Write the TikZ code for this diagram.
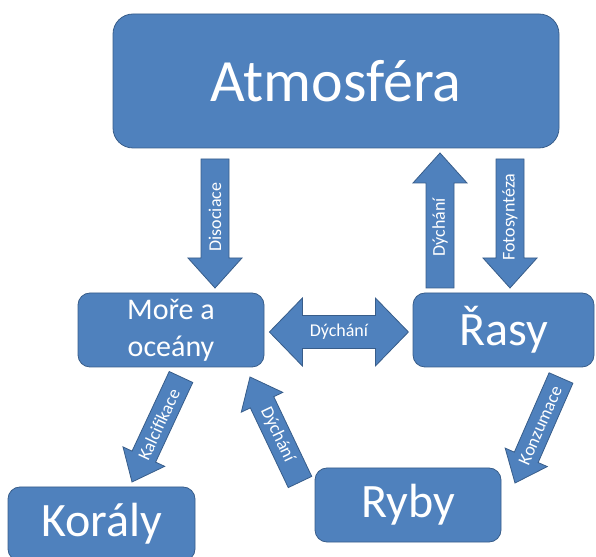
\documentclass[tikz,border=0pt]{standalone}
\usepackage{fontspec}
\setmainfont{Carlito}
\usetikzlibrary{calc}
\definecolor{box fill}{HTML}{4F81BD}
\definecolor{box edge}{HTML}{385D8A}
\begin{document}
\begin{tikzpicture}[x=1pt,y=1pt,
  box/.style={fill=box fill, draw=box edge, line width=.8pt, rounded corners=#1, text=white, inner sep=0pt, align=center},
  box/.default=12pt,
  arrowbox/.style={fill=box fill, draw=box edge, line width=.8pt},
  arrowtext/.style={text=white, inner sep=0pt, font=\fontsize{18}{20}\selectfont}]
\def\shaftw{14pt}\def\headw{27pt}\def\headl{30pt}
\def\blockarrow#1#2#3#4#5{%
  \coordinate (ah) at ($(#2)!\headl!(#1)$);
  \draw[arrowbox] ($(#1)!\shaftw!90:(#2)$) -- ($(ah)!\shaftw!90:(#2)$) -- ($(ah)!\headw!90:(#2)$) -- (#2)
    -- ($(ah)!\headw!-90:(#2)$) -- ($(ah)!\shaftw!-90:(#2)$) -- ($(#1)!\shaftw!-90:(#2)$) -- cycle;
  \node[arrowtext, rotate=#3] (#4) at ($(#1)!.45!(#2)$) {#5};
}
\useasboundingbox (0,0) rectangle (596,556);
\clip (0,0) rectangle (596,556);

% boxes
\node[box=20pt, minimum width=446pt, minimum height=134pt, font=\fontsize{60}{60}\selectfont] (atm) at (336,475) {Atmosféra};
\node[box, minimum width=186pt, minimum height=74pt, font=\fontsize{30}{37}\selectfont] (more) at (171,226) {Moře a\\oceány};
\node[box, minimum width=181pt, minimum height=74pt, font=\fontsize{48}{48}\selectfont] (rasy) at (503.5,226) {Řasy};
\node[box, minimum width=186pt, minimum height=74pt, font=\fontsize{48}{48}\selectfont] (ryby) at (408,51) {Ryby};
\node[box, minimum width=187pt, minimum height=74pt, font=\fontsize{48}{48}\selectfont] (koraly) at (101.5,32) {Korály};

% block arrows
\coordinate (dis-a) at (215,397);  \coordinate (dis-b) at (215,268);
\coordinate (dyu-a) at (440,268);  \coordinate (dyu-b) at (440,403);
\coordinate (fot-a) at (510,397);  \coordinate (fot-b) at (510,268);
\blockarrow{dis-a}{dis-b}{90}{disoc}{Disociace}
\blockarrow{dyu-a}{dyu-b}{90}{dych1}{Dýchání}
\blockarrow{fot-a}{fot-b}{90}{foto}{Fotosyntéza}

\def\shaftw{13pt}\def\headw{23pt}\def\headl{28pt}
\coordinate (kal-a) at (181,179);  \coordinate (kal-b) at (132,74);
\coordinate (dyd-a) at (300,74);   \coordinate (dyd-b) at (250,179);
\coordinate (kon-a) at (561,178);  \coordinate (kon-b) at (515,73);
\blockarrow{kal-a}{kal-b}{65}{kalc}{Kalcifikace}
\blockarrow{dyd-a}{dyd-b}{-64.5}{dych2}{Dýchání}
\blockarrow{kon-a}{kon-b}{66.3}{konz}{Konzumace}

% double arrow between the sea and the algae
\coordinate (dyh-l) at ($(more.east)+(5,-2)$);
\draw[arrowbox] (dyh-l) -- ++(33,34) -- ++(0,-17.5) -- ++(73,0) -- ++(0,17.5) -- ++(33,-34)
  -- ++(-33,-34) -- ++(0,17.5) -- ++(-73,0) -- ++(0,-17.5) -- cycle;
\node[arrowtext] (dych3) at ($(dyh-l)+(69.5,0)$) {Dýchání};

\end{tikzpicture}
\end{document}
